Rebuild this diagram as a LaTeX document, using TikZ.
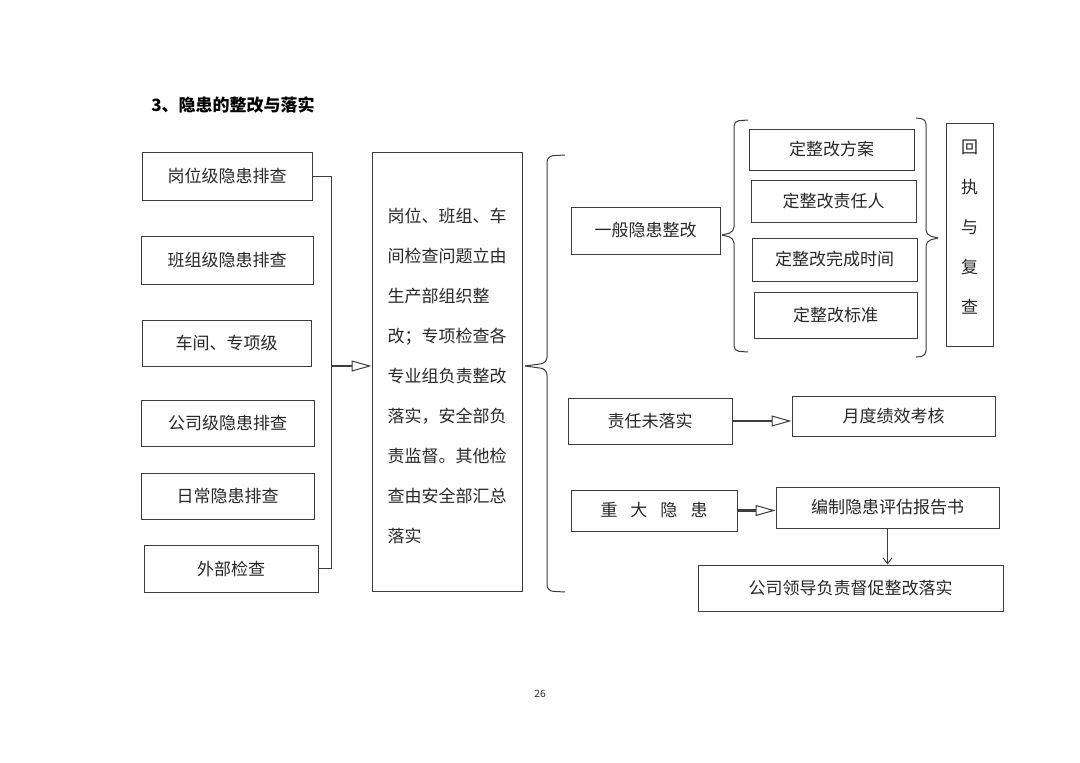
\documentclass[tikz,border=0pt]{standalone}
\usepackage{fontspec}
\usepackage{tikz}
\usetikzlibrary{arrows.meta, positioning, calc}
\newfontfamily\cjk{Noto Sans CJK SC}
\definecolor{linegray}{RGB}{60, 60, 60}
\definecolor{textgray}{RGB}{40, 40, 40}

\begin{document}
\begin{tikzpicture}[
    x=1pt, y=-1pt,
    box/.style={draw=linegray, line width=1pt, inner sep=0pt, text=textgray,
                font=\cjk\fontsize{17}{20}\selectfont},
    bigarrow/.style={line width=2.2pt, linegray,
                -{Triangle[open, length=20pt, width=11pt, line width=1pt]}},
    thinarrow/.style={line width=0.9pt, linegray, -{Straight Barb[length=6pt, width=9pt]}},
    bracket/.style={draw=linegray, line width=1pt, rounded corners=#1},
    bracket/.default=6pt
]
    \useasboundingbox[fill=white] (0,0) rectangle (1080,763);

    \node[font=\cjk\bfseries\fontsize{17}{20}\selectfont] (title) at (233,105)
        {3、隐患的整改与落实};

    % sources of hidden dangers
    \node[box, minimum width=170, minimum height=48] (post) at (227,176) {岗位级隐患排查};
    \node[box, minimum width=172, minimum height=48] (team) at (227,260) {班组级隐患排查};
    \node[box, minimum width=169, minimum height=46] (shop) at (226.5,343) {车间、专项级};
    \node[box, minimum width=173, minimum height=46] (firm) at (227.5,423) {公司级隐患排查};
    \node[box, minimum width=173, minimum height=46] (daily) at (227.5,496) {日常隐患排查};
    \node[box, minimum width=174, minimum height=47] (extern) at (231,568.5) {外部检查};

    \node[box, minimum width=150, minimum height=439, align=left,
          font=\cjk\fontsize{17}{40}\selectfont] (rectify) at (447,371.5)
        {\rule{0pt}{24pt}岗位、班组、车\\间检查问题立由\\生产部组织整\\改；专项检查各\\专业组负责整改\\落实，安全部负\\责监督。其他检\\查由安全部汇总\\落实};

    \draw[linegray, line width=1pt] (post.east) -- ++(19,0) |- (extern.east);
    \coordinate (busmid) at (331,366);
    \draw[bigarrow] (busmid) -- (rectify.west |- busmid);

    \draw[bracket] (565,155) -- (547,156) -- (547,363) -- (525,366);
    \draw[bracket] (525,366) -- (547,369) -- (547,591) -- (565,592);

    % general hidden dangers
    \node[box, minimum width=149, minimum height=47] (general) at (645.5,230.5) {一般隐患整改};
    \node[box, minimum width=165, minimum height=41] (plan) at (831.5,149.5) {定整改方案};
    \node[box, minimum width=165, minimum height=42] (person) at (833.5,201) {定整改责任人};
    \node[box, minimum width=165, minimum height=43] (deadline) at (834.5,259.5) {定整改完成时间};
    \node[box, minimum width=163, minimum height=46] (standard) at (835.5,315) {定整改标准};
    \node[box, minimum width=47, minimum height=223, align=center,
          font=\cjk\fontsize{17}{40}\selectfont] (review) at (969.5,234.5)
        {回\\执\\与\\复\\查\rule[-15pt]{0pt}{15pt}};

    \draw[bracket=5pt] (748,120) -- (734,121) -- (734,232) -- (722,235);
    \draw[bracket=5pt] (722,235) -- (734,238) -- (734,351) -- (748,352);
    \draw[bracket=5pt] (916,118) -- (926,119) -- (926,235) -- (938,238);
    \draw[bracket=5pt] (938,238) -- (926,241) -- (926,356) -- (916,357);

    % responsibility not implemented
    \node[box, minimum width=164, minimum height=46] (undone) at (650,421) {责任未落实};
    \node[box, minimum width=203, minimum height=40] (assess) at (893.5,416) {月度绩效考核};
    \draw[bigarrow] (undone.east) -- (undone.east -| assess.west);

    % major hidden dangers
    \node[box, minimum width=166, minimum height=41] (major) at (654,510.5)
        {重\hspace{13pt}大\hspace{13pt}隐\hspace{13pt}患};
    \node[box, minimum width=223, minimum height=41] (report) at (887.5,507.5) {编制隐患评估报告书};
    \node[box, minimum width=305, minimum height=46] (leader) at (850.5,588) {公司领导负责督促整改落实};
    \draw[bigarrow] (major.east) -- (major.east -| report.west);
    \draw[thinarrow] (report.south) -- (leader.north -| report.south);

    \node[font=\fontspec{Noto Sans}\fontsize{10}{12}\selectfont, text=textgray] (page) at (540,694) {26};
\end{tikzpicture}
\end{document}
